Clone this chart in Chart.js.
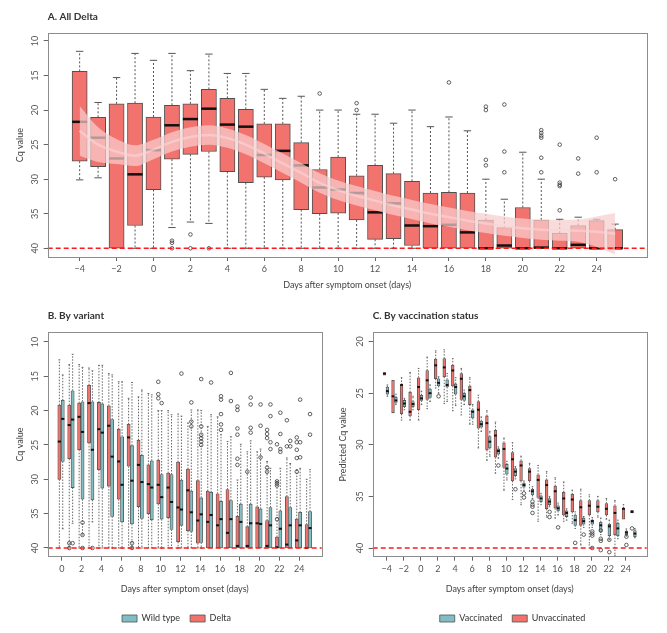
<!DOCTYPE html>
<html>
<head>
<meta charset="utf-8">
<script src="https://cdn.jsdelivr.net/npm/chart.js@4.4.1/dist/chart.umd.min.js"></script>
<style>
  html, body { margin: 0; padding: 0; background: #fff; width: 667px; height: 633px; overflow: hidden; position: relative; }
  canvas { position: absolute; }
  #chartA { left: 0; top: 0; }
  #chartB { left: 0; top: 290px; }
  #chartC { left: 335px; top: 290px; }
</style>
</head>
<body>
<canvas id="chartA" width="667" height="300"></canvas>
<canvas id="chartB" width="353" height="343"></canvas>
<canvas id="chartC" width="355" height="343"></canvas>
<script>
// ---- data (Cq values; low/high = box edges, min/max = whisker ends) ----
const detectionLimit = 40;
const xTicksA = [-4, -2, 0, 2, 4, 6, 8, 10, 12, 14, 16, 18, 20, 22, 24];
const xTicksB = [0, 2, 4, 6, 8, 10, 12, 14, 16, 18, 20, 22, 24];
const yTicksAB = [10, 15, 20, 25, 30, 35, 40];
const yTicksC = [20, 25, 30, 35, 40];

// A. All Delta
const daysA = [-4, -3, -2, -1, 0, 1, 2, 3, 4, 5, 6, 7, 8, 9, 10, 11, 12, 13, 14, 15, 16, 17, 18, 19, 20, 21, 22, 23, 24, 25];
const lowA  = [14.4, 21.05, 19.1, 19.0, 21.0, 19.3, 19.1, 17.0, 18.3, 19.9, 22.0, 22.0, 24.7, 28.6, 26.8, 29.5, 28.0, 29.2, 30.3, 32.0, 31.9, 32.0, 35.9, 37.0, 34.1, 35.9, 37.8, 36.7, 36.0, 37.3];
const highA = [27.4, 28.2, 40, 36.7, 31.5, 27.1, 26.4, 26.0, 28.9, 30.5, 29.7, 30.1, 34.4, 35.0, 34.9, 35.9, 38.7, 38.6, 39.6, 40, 40, 40, 40, 40, 40, 40, 40, 40, 40, 40];
const medA  = [21.7, 24.0, 27.0, 29.3, 25.8, 22.2, 21.3, 19.8, 22.1, 22.4, 26.5, 25.9, 28.0, 31.2, 31.5, 32.0, 34.8, 33.5, 36.7, 36.8, 36.6, 37.7, 40, 39.6, 40, 39.9, 40, 39.5, 40, 40];
const minA  = [11.5, 18.9, 15.3, 11.8, 12.8, 11.8, 14.3, 11.9, 14.7, 14.7, 17.0, 18.3, 18.0, 20.0, 20.0, 20.6, 20.6, 21.9, 20.0, 22.4, 21.0, 23.0, 30.0, 32.9, 26.1, 30.0, 35.8, 35.5, 35.8, 36.5];
const maxA  = [30.1, 29.8, 40, 40, 40, 37.0, 36.2, 36.4, 40, 40, 40, 40, 40, 40, 40, 40, 40, 40, 40, 40, 40, 40, 40, 40, 40, 40, 40, 40, 40, 40];
const outA  = [[1, 40], [1, 39.2], [1, 38.9], [2, 38.0], [2, 40], [3, 40], [9, 17.6], [11, 19.0], [11, 20.0], [16, 16.0],
  [18, 19.5], [18, 20.0], [18, 27.2], [18, 28.0], [19, 19.2], [19, 26.0], [19, 29.0], [21, 22.9], [21, 23.3], [21, 23.7],
  [21, 24.0], [21, 26.9], [21, 29.0], [22, 25.0], [22, 30.5], [22, 30.8], [22, 31.0], [22, 34.5], [23, 27.0], [23, 29.2],
  [24, 24.0], [24, 29.0], [25, 30.0]];
// smoothed trend with its confidence band
const trendA     = [23.0, 25.0, 26.0, 26.6, 25.7, 24.6, 23.9, 23.6, 24.05, 25.0, 26.3, 27.7, 29.1, 30.55, 31.6, 32.4, 33.1, 33.8, 34.4, 35.0, 35.5, 36.0, 36.4, 36.8, 37.1, 37.3, 37.4, 37.45, 37.6, 37.9];
const trendHalfA = [3.6, 2.5, 1.8, 1.5, 1.4, 1.4, 1.4, 1.4, 1.4, 1.4, 1.4, 1.4, 1.4, 1.4, 1.4, 1.4, 1.4, 1.4, 1.4, 1.4, 1.4, 1.4, 1.4, 1.4, 1.4, 1.45, 1.5, 1.6, 2.2, 3.0];

// B. By variant
const daysB = [0, 1, 2, 3, 4, 5, 6, 7, 8, 9, 10, 11, 12, 13, 14, 15, 16, 17, 18, 19, 20, 21, 22, 23, 24, 25];
const deltaLow  = [19.2, 19.2, 18.9, 16.3, 18.8, 19.3, 22.7, 22.0, 24.3, 27.9, 27.2, 29.1, 27.5, 28.5, 30.2, 31.7, 32.1, 31.5, 35.4, 36.9, 34.0, 36.0, 38.4, 32.5, 35.8, 36.6];
const deltaHigh = [30.0, 27.0, 25.7, 24.7, 28.6, 31.0, 32.9, 28.1, 34.0, 35.0, 33.6, 35.6, 39.1, 37.5, 39.3, 40, 40, 40, 40, 40, 40, 40, 40, 40, 40, 40];
const deltaMed  = [24.5, 22.1, 20.9, 18.9, 22.7, 22.2, 27.4, 23.9, 27.9, 30.7, 30.8, 31.2, 34.1, 31.6, 36.0, 36.2, 36.7, 37.8, 39.7, 39.7, 36.4, 39.7, 39.9, 39.5, 38.9, 40];
const deltaMin  = [12.6, 13.3, 13.3, 13.8, 13.4, 14.6, 15.8, 18.2, 18.0, 17.5, 20.0, 20.0, 20.5, 21.8, 19.9, 22.3, 20.9, 24.5, 30.1, 26.0, 26.0, 27.4, 30.3, 26.9, 28.6, 30.0];
const deltaMax  = [40, 40, 40, 40, 40, 40, 40, 40, 40, 40, 40, 40, 40, 40, 40, 40, 40, 40, 40, 40, 40, 40, 40, 40, 40, 40];
const deltaOut  = [[1, 39.3], [1, 40], [10, 15.8], [10, 17.6], [10, 18.2], [18, 19.4], [18, 19.9], [18, 22.6], [18, 23.5], [18, 27.0],
  [18, 27.9], [19, 28.9], [21, 22.8], [21, 23.4], [21, 24.0], [21, 28.3], [21, 28.9], [22, 24.9], [22, 30.3], [22, 30.6],
  [22, 30.9], [22, 35.8], [23, 21.4], [23, 25.2], [24, 23.9], [24, 24.6], [24, 25.7], [24, 26.9], [24, 28.9]];
const wildLow  = [18.5, 17.1, 18.7, 18.7, 19.0, 21.3, 23.8, 25.1, 26.5, 27.3, 29.3, 29.3, 30.1, 31.7, 32.7, 31.9, 33.2, 33.1, 33.6, 33.6, 34.3, 34.1, 34.6, 34.1, 34.8, 34.7];
const wildHigh = [27.4, 31.2, 32.9, 33.0, 31.3, 35.4, 36.2, 36.5, 35.7, 35.9, 35.8, 37.3, 36.7, 37.6, 39.2, 40, 40, 40, 40, 40, 40, 40, 40, 40, 40, 40];
const wildMed  = [21.2, 21.3, 23.1, 25.7, 23.2, 26.7, 30.8, 30.2, 30.4, 31.2, 32.6, 33.3, 34.4, 34.8, 35.1, 35.2, 35.8, 35.8, 36.2, 36.4, 36.5, 36.7, 37.2, 36.7, 36.7, 37.1];
const wildMin  = [14.8, 11.8, 13.7, 14.2, 13.4, 14.8, 15.8, 15.9, 17.0, 17.7, 20.0, 20.6, 20.8, 19.9, 20.0, 20.6, 23.5, 23.8, 24.9, 24.4, 25.6, 28.4, 28.4, 27.7, 28.4, 28.6];
const wildMax  = [37.2, 36.4, 38.1, 36.2, 40, 40, 40, 40, 40, 40, 40, 40, 40, 40, 40, 40, 40, 40, 40, 40, 40, 40, 40, 40, 40, 40];
const wildOut  = [[1, 39.3], [2, 36.3], [2, 38.1], [2, 40], [3, 40], [7, 39.3], [7, 40], [10, 18.9], [12, 14.6], [13, 18.8],
  [13, 21.6], [13, 22.3], [14, 15.4], [14, 22.3], [14, 23.5], [14, 24.0], [14, 24.5], [14, 25.0], [15, 15.9], [16, 17.9],
  [16, 18.4], [16, 20.5], [16, 22.0], [16, 22.8], [17, 14.5], [17, 18.6], [19, 18.1], [19, 19.1], [19, 22.5], [19, 23.2],
  [20, 19.1], [20, 22.2], [20, 26.8], [21, 19.1], [21, 20.8], [21, 24.6], [21, 25.6], [22, 20.3], [22, 23.4], [22, 25.6],
  [22, 26.0], [23, 24.4], [23, 25.2], [24, 18.4], [24, 24.6], [24, 26.8], [25, 20.5], [25, 23.5]];

// C. By vaccination status (predicted Cq)
const daysC = daysA;
const unvaxLow  = [23.0, 23.75, 24.2, 24.9, 23.5, 22.8, 21.7, 21.65, 22.3, 23.1, 24.3, 25.8, 27.2, 28.6, 29.8, 30.75, 31.55, 32.3, 32.9, 33.4, 34.0, 34.6, 34.8, 35.4, 35.4, 35.4, 35.7, 35.9, 36.15, 36.35];
const unvaxHigh = [23.25, 26.9, 27.0, 27.2, 26.6, 25.6, 23.6, 23.4, 24.3, 25.6, 26.1, 28.4, 30.5, 31.2, 32.2, 33.5, 33.5, 33.5, 35.1, 36.2, 36.15, 36.8, 36.5, 37.8, 36.8, 36.5, 36.8, 38.7, 37.2, 36.6];
const unvaxMed  = [23.1, 25.3, 24.2, 26.8, 24.4, 23.75, 22.3, 22.5, 22.8, 23.6, 24.7, 26.6, 27.9, 29.1, 30.4, 31.4, 32.0, 32.6, 33.4, 33.9, 34.5, 35.2, 35.3, 36.05, 35.9, 36.0, 36.2, 36.6, 36.2, 36.5];
const unvaxMin  = [23.0, 23.75, 23.5, 23.0, 22.6, 21.5, 20.9, 20.8, 21.65, 22.6, 23.5, 25.2, 26.7, 27.8, 29.35, 29.8, 31.1, 31.8, 32.0, 32.6, 33.2, 33.6, 34.4, 34.3, 34.85, 35.0, 35.2, 35.4, 35.8, 36.35];
const unvaxMax  = [23.25, 26.9, 27.6, 27.6, 27.6, 26.5, 24.5, 26.0, 26.7, 27.1, 28.0, 30.3, 31.5, 32.75, 34.4, 35.3, 35.8, 34.5, 37.4, 37.0, 37.1, 37.4, 37.6, 39.7, 39.7, 37.0, 37.2, 40.7, 37.2, 36.6];
const unvaxOut  = [[25, 38.1]];
const vaxLow  = [24.4, 25.4, 25.7, 25.8, 25.2, 24.6, 23.6, 23.7, 24.1, 25.0, 26.6, 27.7, 29.2, 30.4, 31.9, 32.3, 33.7, 34.3, 34.95, 35.2, 35.9, 36.4, 36.8, 37.1, 37.3, 37.5, 37.7, 37.6, 38.35, 38.3];
const vaxHigh = [25.1, 25.9, 26.3, 26.3, 25.7, 25.4, 24.3, 24.4, 25.1, 25.7, 27.4, 28.3, 30.3, 30.9, 32.85, 33.0, 34.1, 34.85, 35.5, 35.8, 36.4, 36.95, 37.8, 37.7, 37.7, 38.4, 38.8, 38.8, 38.7, 38.9];
const vaxMed  = [24.8, 25.7, 26.0, 26.05, 25.5, 25.0, 24.0, 24.2, 24.4, 25.3, 26.8, 28.0, 29.7, 30.6, 32.3, 32.6, 33.9, 34.5, 35.2, 35.5, 36.15, 36.6, 37.3, 37.4, 37.4, 37.8, 37.9, 38.1, 38.5, 38.6];
const vaxMin  = [24.2, 25.1, 25.5, 25.3, 24.8, 24.2, 23.4, 23.1, 23.5, 24.7, 26.1, 27.3, 28.7, 30.2, 31.6, 32.1, 33.5, 34.05, 34.7, 35.0, 35.65, 36.2, 36.5, 36.95, 37.05, 37.1, 37.3, 37.3, 38.15, 38.1];
const vaxMax  = [25.3, 26.1, 26.6, 26.6, 26.1, 25.8, 25.0, 25.8, 26.2, 26.1, 28.0, 28.7, 31.1, 31.3, 33.4, 33.3, 34.4, 35.2, 35.8, 36.0, 36.8, 37.3, 38.1, 38.0, 38.0, 38.7, 39.2, 39.1, 38.85, 39.0];
const vaxOut  = [[2, 25.3], [9, 32.0], [11, 34.3], [12, 34.7], [12, 35.1], [13, 35.5], [13, 35.8], [13, 36.0], [13, 36.6],
  [15, 36.5], [15, 37.0], [16, 38.0], [18, 39.5], [19, 38.7], [20, 38.4], [20, 38.6], [20, 38.8], [20, 40], [21, 38.3],
  [21, 39.1], [21, 39.3], [21, 40.2], [22, 39.2], [22, 40.4], [24, 38.9], [24, 39.7]];

// ---- styling ----
const FONT = 'Lato, "Open Sans", sans-serif';
const RED = '#f2736d', TEAL = '#80bec4', EDGE = '#505050';
Chart.defaults.font.family = FONT;
Chart.defaults.color = '#555';

const span = (chart, w) => {
  const x = chart.scales.x;
  return x && x.width ? Math.abs(x.getPixelForValue(w) - x.getPixelForValue(0)) : 4;
};

function boxSet(label, days, lo, hi, med, wMin, wMax, look) {
  return {
    type: 'bar', label, order: 2, grouped: false,
    data: days.map((d, i) => ({ x: d + look.shift, y: [lo[i], hi[i]] })),
    backgroundColor: look.color, borderColor: EDGE, borderWidth: look.edge, borderSkipped: false,
    barThickness: c => span(c.chart, look.width),
    box: { med, wMin, wMax, look }
  };
}

function outlierSet(pairs, shift) {
  return {
    type: 'scatter', order: 1,
    data: pairs.map(([d, v]) => ({ x: d + shift, y: v })),
    pointRadius: 1.8, pointBorderWidth: 0.8, pointBorderColor: '#3a3a3a', pointBackgroundColor: 'rgba(0,0,0,0)'
  };
}

// whiskers, caps and medians, drawn right after each box dataset
const boxParts = {
  id: 'boxParts',
  afterDatasetDraw(chart, args) {
    const ds = chart.data.datasets[args.index];
    if (!ds.box) return;
    const { med, wMin, wMax, look } = ds.box;
    const { ctx, scales: { y } } = chart;
    const cap = span(chart, look.cap) / 2;
    ctx.save();
    args.meta.data.forEach((bar, i) => {
      const cx = bar.x, w = bar.width;
      const top = y.getPixelForValue(ds.data[i].y[0]);
      const bot = y.getPixelForValue(ds.data[i].y[1]);
      const yMin = y.getPixelForValue(wMin[i]);
      const yMax = y.getPixelForValue(wMax[i]);
      ctx.strokeStyle = look.whisk; ctx.lineWidth = 1; ctx.setLineDash(look.dash);
      ctx.beginPath();
      if (yMin < top - 0.5) { ctx.moveTo(cx, top); ctx.lineTo(cx, yMin); }
      if (yMax > bot + 0.5) { ctx.moveTo(cx, bot); ctx.lineTo(cx, yMax); }
      ctx.stroke();
      ctx.setLineDash([]);
      ctx.beginPath();
      if (yMin < top - 0.5) { ctx.moveTo(cx - cap, yMin); ctx.lineTo(cx + cap, yMin); }
      if (yMax > bot + 0.5) { ctx.moveTo(cx - cap, yMax); ctx.lineTo(cx + cap, yMax); }
      ctx.stroke();
      const my = y.getPixelForValue(med[i]);
      ctx.fillStyle = '#111';
      ctx.fillRect(cx - w / 2, my - look.medH / 2, w, look.medH);
    });
    ctx.restore();
  }
};

// detection-limit line and plot frame
const frame = {
  id: 'frame',
  afterDatasetsDraw(chart) {
    const { ctx, chartArea: a, scales: { y } } = chart;
    const ly = y.getPixelForValue(detectionLimit);
    ctx.save();
    ctx.strokeStyle = '#ff1a1a'; ctx.lineWidth = 1.4; ctx.setLineDash([5, 3]);
    ctx.beginPath(); ctx.moveTo(a.left, ly); ctx.lineTo(a.right, ly); ctx.stroke();
    ctx.setLineDash([]);
    ctx.strokeStyle = '#8c8c8c'; ctx.lineWidth = 1;
    ctx.strokeRect(Math.round(a.left) + 0.5, Math.round(a.top) + 0.5, Math.round(a.right - a.left), Math.round(a.bottom - a.top));
    ctx.restore();
  }
};

function scalesFor(g) {
  const tickFont = { size: 9 };
  return {
    x: {
      type: 'linear', min: g.xMin, max: g.xMax, offset: false,
      afterBuildTicks: s => { s.ticks = g.xTicks.map(v => ({ value: v })); },
      grid: { drawOnChartArea: false, drawTicks: true, tickLength: 4, color: '#666', offset: false },
      border: { display: false },
      ticks: { font: tickFont, color: '#555', padding: 3, maxRotation: 0, autoSkip: false,
               callback: v => String(v).replace('-', '\u2212') },
      title: { display: true, text: 'Days after symptom onset (days)', font: { size: 9 }, color: '#444',
               padding: { top: 0, bottom: g.xTitlePad } },
      afterFit: s => { s.height = g.xHeight; }
    },
    y: {
      type: 'linear', reverse: true, min: g.yMin, max: g.yMax,
      afterBuildTicks: s => { s.ticks = g.yTicks.map(v => ({ value: v })); },
      grid: { drawOnChartArea: false, drawTicks: true, tickLength: 4, color: '#666' },
      border: { display: false },
      ticks: { font: tickFont, color: '#555', padding: 3, minRotation: 90, maxRotation: 90, crossAlign: 'center' },
      title: { display: true, text: g.yTitle, font: { size: 9 }, color: '#444', padding: { top: g.yTitlePad, bottom: 0 } },
      afterFit: s => { s.width = g.yWidth; }
    },
    pad: {
      type: 'linear', position: 'right', display: true,
      grid: { display: false }, border: { display: false }, ticks: { display: false },
      afterFit: s => { s.width = g.rightWidth; }
    }
  };
}

function build(id, datasets, g) {
  return new Chart(document.getElementById(id), {
    type: 'bar',
    data: { datasets },
    options: {
      responsive: false, animation: false, events: [],
      layout: { padding: 0, autoPadding: false },
      scales: scalesFor(g),
      plugins: {
        tooltip: { enabled: false },
        title: { display: true, text: g.title, align: 'start', fullSize: false, color: '#333',
                 font: { size: 10, weight: 'bold' }, padding: { top: g.titleTop, bottom: g.titleBottom } },
        legend: {
          display: !!g.legend, position: 'bottom', fullSize: true,
          labels: { boxWidth: 15, boxHeight: 7, padding: 10, color: '#333', font: { size: 9 },
                    filter: (item, data) => !!data.datasets[item.datasetIndex].box }
        }
      }
    },
    plugins: [boxParts, frame]
  });
}

// ---- panel A ----
const lookA = { shift: 0, width: 0.82, edge: 1, color: RED, cap: 0.4, medH: 2.5, whisk: '#555', dash: [2, 2] };
build('chartA', [
  { type: 'line', order: 0, data: daysA.map((d, i) => ({ x: d, y: trendA[i] - trendHalfA[i] })),
    borderWidth: 0, pointRadius: 0, fill: false, cubicInterpolationMode: 'monotone' },
  { type: 'line', order: 0, data: daysA.map((d, i) => ({ x: d, y: trendA[i] + trendHalfA[i] })),
    borderWidth: 0, pointRadius: 0, fill: '-1', backgroundColor: 'rgba(248,205,205,0.72)', cubicInterpolationMode: 'monotone' },
  { type: 'line', order: 0, data: daysA.map((d, i) => ({ x: d, y: trendA[i] })),
    borderWidth: 2.5, borderColor: 'rgba(255,236,236,0.6)', pointRadius: 0, fill: false, cubicInterpolationMode: 'monotone' },
  boxSet('All Delta', daysA, lowA, highA, medA, minA, maxA, lookA),
  outlierSet(outA, 0)
], {
  title: 'A. All Delta', titleTop: 10.7, titleBottom: 10.6,
  xMin: -5.73, xMax: 26.71, xTicks: xTicksA, xHeight: 43, xTitlePad: 9.6,
  yMin: 8.89, yMax: 41.26, yTicks: yTicksAB, yTitle: 'Cq value', yTitlePad: 14.6, yWidth: 47.7, rightWidth: 20.3
});

// ---- panel B ----
const lookWild  = { shift: 0.1,   width: 0.32, edge: 0.8, color: TEAL, cap: 0.18, medH: 2, whisk: '#666', dash: [1.5, 1.5] };
const lookDelta = { shift: -0.24, width: 0.32, edge: 0.8, color: RED,  cap: 0.18, medH: 2, whisk: '#666', dash: [1.5, 1.5] };
build('chartB', [
  boxSet('Wild type', daysB, wildLow, wildHigh, wildMed, wildMin, wildMax, lookWild),
  boxSet('Delta', daysB, deltaLow, deltaHigh, deltaMed, deltaMin, deltaMax, lookDelta),
  outlierSet(wildOut, lookWild.shift),
  outlierSet(deltaOut, lookDelta.shift)
], {
  title: 'B. By variant', titleTop: 19.7, titleBottom: 10.6, legend: true,
  xMin: -1.42, xMax: 26.28, xTicks: xTicksB, xHeight: 47.3, xTitlePad: 9.6,
  yMin: 8.59, yMax: 41.27, yTicks: yTicksAB, yTitle: 'Cq value', yTitlePad: 14.6, yWidth: 47.7, rightWidth: 31.3
});

// ---- panel C ----
const lookVax   = { shift: 0.08,  width: 0.32, edge: 0.8, color: TEAL, cap: 0.18, medH: 2, whisk: '#666', dash: [1.5, 1.5] };
const lookUnvax = { shift: -0.26, width: 0.32, edge: 0.8, color: RED,  cap: 0.18, medH: 2, whisk: '#666', dash: [1.5, 1.5] };
build('chartC', [
  boxSet('Vaccinated', daysC, vaxLow, vaxHigh, vaxMed, vaxMin, vaxMax, lookVax),
  boxSet('Unvaccinated', daysC, unvaxLow, unvaxHigh, unvaxMed, unvaxMin, unvaxMax, lookUnvax),
  outlierSet(vaxOut, lookVax.shift),
  outlierSet(unvaxOut, lookUnvax.shift)
], {
  title: 'C. By vaccination status', titleTop: 19.7, titleBottom: 10.6, legend: true,
  xMin: -5.64, xMax: 26.46, xTicks: xTicksA, xHeight: 47.3, xTitlePad: 9.6,
  yMin: 19.1, yMax: 40.84, yTicks: yTicksC, yTitle: 'Predicted Cq value', yTitlePad: 2.9, yWidth: 37.7, rightWidth: 43.3
});
</script>
</body>
</html>
